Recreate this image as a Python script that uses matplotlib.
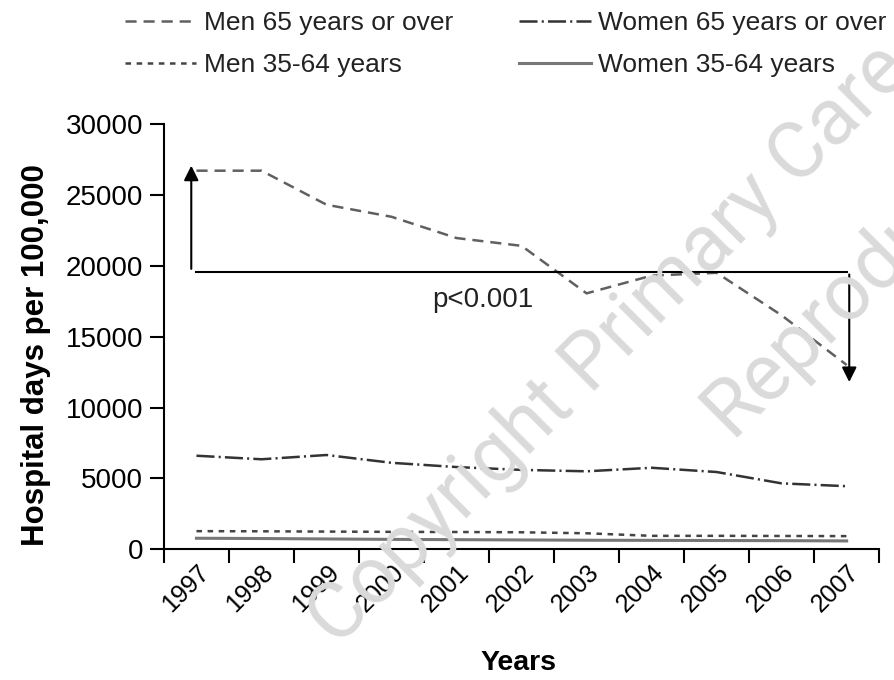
import matplotlib.pyplot as plt
import numpy as np

# values
years = ['1997', '1998', '1999', '2000', '2001', '2002',
         '2003', '2004', '2005', '2006', '2007']
men_65 = [26700, 26700, 24300, 23450, 21950, 21400, 18050, 19300, 19500, 16500, 13000]
women_65 = [6600, 6350, 6650, 6100, 5800, 5600, 5500, 5750, 5450, 4650, 4450]
men_35_64 = [1280, 1270, 1250, 1230, 1220, 1200, 1130, 950, 950, 940, 930]
women_35_64 = [780, 760, 730, 700, 680, 660, 640, 630, 620, 610, 590]

trend_level = 19580
arrow_top = 27250
arrow_bottom = 11600

plt.rcParams['font.family'] = ['Liberation Sans', 'DejaVu Sans']
plt.rcParams['lines.scale_dashes'] = False

fig = plt.figure(figsize=(8.94, 6.8), dpi=100)
ax = fig.add_axes([0.1834, 0.1922, 0.8, 0.6256])

x = np.arange(len(years))

ax.plot(x, men_65, color='#606060', lw=1.8, dashes=(8, 5), label='Men 65 years or over')
ax.plot(x, men_35_64, color='#444444', lw=1.8, dashes=(4, 4), label='Men 35-64 years')
ax.plot(x, women_65, color='#333333', lw=1.8, dashes=(13, 3, 1.5, 3), label='Women 65 years or over')
ax.plot(x, women_35_64, color='#777777', lw=2.2, label='Women 35-64 years')

# trend arrows
ax.plot([x[0], x[-1]], [trend_level, trend_level], color='black', lw=1.5)
ax.annotate('', xy=(x[0] - 0.08, arrow_top), xytext=(x[0] - 0.08, trend_level),
            arrowprops=dict(arrowstyle='-|>', color='black', lw=1.5, mutation_scale=22))
ax.annotate('', xy=(x[-1] + 0.04, arrow_bottom), xytext=(x[-1] + 0.04, trend_level),
            arrowprops=dict(arrowstyle='-|>', color='black', lw=1.5, mutation_scale=22))
ax.text(4.4, 17550, 'p<0.001', fontsize=20, ha='center', va='center', color='#222222')

ax.set_xlim(-0.5, len(years) - 0.5)
ax.set_ylim(0, 30000)
ax.set_yticks([0, 5000, 10000, 15000, 20000, 25000, 30000])
ax.tick_params(axis='y', labelsize=20, length=10, width=1.5, pad=5)

# labels at category centres, tick marks between categories
ax.set_xticks(x)
ax.set_xticklabels(years, rotation=45, ha='right', rotation_mode='anchor', fontsize=18)
ax.tick_params(axis='x', which='major', length=0, pad=8)
ax.set_xticks(np.arange(-0.5, len(years)), minor=True)
ax.tick_params(axis='x', which='minor', length=10, width=1.5)

for side in ['top', 'right']:
    ax.spines[side].set_visible(False)
ax.spines['left'].set_linewidth(1.5)
ax.spines['bottom'].set_linewidth(1.5)

fig.text(36 / 894, 1 - 355 / 680, 'Hospital days per 100,000', rotation=90,
         ha='center', va='center', fontsize=22.5, fontweight='bold')
fig.text(518 / 894, 1 - 663 / 680, 'Years', ha='center', va='center',
         fontsize=20.5, fontweight='bold')

leg = ax.legend(ncol=2, loc='upper left', bbox_to_anchor=(117 / 894, 0.995),
                bbox_transform=fig.transFigure, frameon=False,
                prop={'size': 19},
                handlelength=2.7, handletextpad=0.3, columnspacing=2.5,
                labelspacing=0.68, borderaxespad=0.1, borderpad=0.2)
for t in leg.get_texts():
    t.set_color('#222222')

# watermark
wm = dict(rotation=45, rotation_mode='anchor', ha='left', va='bottom',
          fontsize=57, color='#dadada', zorder=0,
          family=['Roboto', 'Liberation Sans'])
fig.text(0.39, 0.03, 'Copyright Primary Care', **wm)
fig.text(0.83, 0.34, 'Reproduction', **wm)

fig.savefig('out.png', dpi=100)
